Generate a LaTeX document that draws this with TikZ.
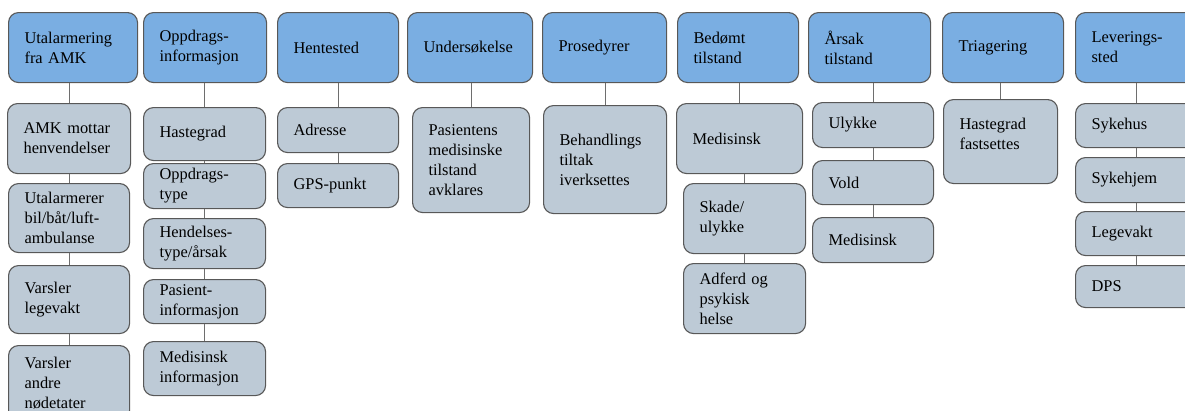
\documentclass[tikz,border=0pt]{standalone}
\usepackage{fontspec}
\setmainfont{Liberation Serif}
\definecolor{hdrblue}{RGB}{122,174,226}
\definecolor{itemgray}{RGB}{189,202,214}
\definecolor{edgegray}{RGB}{88,88,88}
\definecolor{linkgray}{RGB}{110,110,110}
\tikzset{
  cell/.style={draw=edgegray, line width=1.1pt, rounded corners=10pt,
    anchor=north west, align=left, inner xsep=16pt, inner ysep=1pt,
    font=\fontsize{16.4}{20}\selectfont},
  hdr/.style={cell, fill=hdrblue},
  itm/.style={cell, fill=itemgray},
  wh/.code 2 args={\pgfmathsetmacro\cellw{#1-32}%
    \edef\cellopts{\noexpand\pgfkeysalso{minimum width=#1pt,minimum height=#2pt,text width=\cellw pt}}\cellopts},
  link/.style={draw=linkgray, line width=1.1pt}
}
\begin{document}
\begin{tikzpicture}[x=1pt,y=-1pt]
\useasboundingbox (0,0) rectangle (1185,410);
\clip (0,0) rectangle (1185,410);
% column 1
\node[hdr, wh={129}{70}] (h1) at (8,12) {Utalarmering\\fra AMK};
\node[itm, wh={123}{70}] (c11) at (7,103) {AMK mottar\\henvendelser};
\node[itm, wh={121}{69}] (c12) at (8,183) {Utalarmerer\\bil/båt/luft-\\ambulanse};
\node[itm, wh={121}{68}] (c13) at (8,265) {Varsler\\legevakt};
\node[itm, wh={121}{75}] (c14) at (8,345) {Varsler\\andre\\nødetater};
% column 2
\node[hdr, wh={123}{70}] (h2) at (143,12) {Oppdrags-\\informasjon};
\node[itm, wh={122}{53}] (c21) at (143,107) {Hastegrad};
\node[itm, wh={122}{45}] (c22) at (143,163) {Oppdrags-\\type};
\node[itm, wh={122}{50}] (c23) at (143,218) {Hendelses-\\type/årsak};
\node[itm, wh={122}{44}] (c24) at (143,279) {Pasient-\\informasjon};
\node[itm, wh={122}{54}] (c25) at (143,341) {Medisinsk\\informasjon};
% column 3
\node[hdr, wh={121}{70}] (h3) at (277,12) {Hentested};
\node[itm, wh={121}{45}] (c31) at (277,107) {Adresse};
\node[itm, wh={121}{44}] (c32) at (277,163) {GPS-punkt};
% column 4
\node[hdr, wh={125}{70}] (h4) at (407,12) {Undersøkelse};
\node[itm, wh={117}{105}] (c41) at (412,107) {Pasientens\\medisinske\\tilstand\\avklares};
% column 5
\node[hdr, wh={124}{70}] (h5) at (542,12) {Prosedyrer};
\node[itm, wh={123}{108}] (c51) at (543,105) {Behandlings\\tiltak\\iverksettes};
% column 6
\node[hdr, wh={121}{70}] (h6) at (677,12) {Bedømt\\tilstand};
\node[itm, wh={126}{70}] (c61) at (676,103) {Medisinsk};
\node[itm, wh={122}{70}] (c62) at (683,183) {Skade/\\ulykke};
\node[itm, wh={122}{70}] (c63) at (683,263) {Adferd og\\psykisk\\helse};
% column 7
\node[hdr, wh={122}{70}] (h7) at (808,12) {Årsak\\tilstand};
\node[itm, wh={121}{45}] (c71) at (812,102) {Ulykke};
\node[itm, wh={121}{44}] (c72) at (812,160) {Vold};
\node[itm, wh={121}{45}] (c73) at (812,217) {Medisinsk};
% column 8
\node[hdr, wh={121}{70}] (h8) at (942,12) {Triagering};
\node[itm, wh={114}{84}] (c81) at (943,99) {Hastegrad\\fastsettes\\[-4pt]\mbox{}};
% column 9
\node[hdr, wh={122}{70}] (h9) at (1075,12) {Leverings-\\sted};
\node[itm, wh={122}{44}] (c91) at (1075,103) {Sykehus};
\node[itm, wh={122}{45}] (c92) at (1075,157) {Sykehjem};
\node[itm, wh={122}{44}] (c93) at (1075,211) {Legevakt};
\node[itm, wh={122}{42}] (c94) at (1075,265) {DPS};
% vertical connectors
\foreach \a/\b in {h1/c11,c11/c12,c12/c13,c13/c14,
                   h2/c21,c21/c22,c22/c23,c23/c24,c24/c25,
                   h3/c31,c31/c32,h4/c41,h5/c51,
                   h6/c61,c61/c62,c62/c63,
                   h7/c71,c71/c72,c72/c73,h8/c81,
                   h9/c91,c91/c92,c92/c93,c93/c94}
  \draw[link] (\a.south -| \b.north) -- (\b.north);
\end{tikzpicture}
\end{document}
